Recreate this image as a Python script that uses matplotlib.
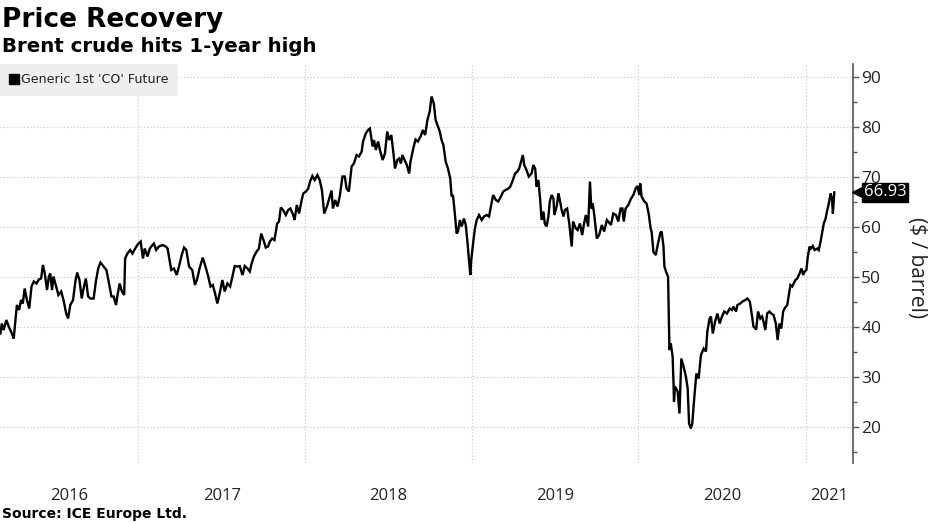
import matplotlib
matplotlib.use("Agg")
import matplotlib.pyplot as plt
import matplotlib.dates as mdates
import matplotlib.transforms as mtransforms
from matplotlib.lines import Line2D
from matplotlib.ticker import FixedLocator, NullFormatter, FixedFormatter
import pandas as pd

# ---- data: Brent (Generic 1st 'CO' Future), day-of-year and price per year ----
years = [2016, 2017, 2018, 2019, 2020, 2021]

d2016 = [64, 67, 71, 77, 82, 89, 93, 97, 100, 105, 109, 113, 117, 122, 127, 132, 137, 143, 148, 153,
         157, 161, 166, 170, 173, 177, 180, 186, 191, 197, 202, 208, 212, 217, 223, 228, 232, 237, 242, 246,
         251, 256, 261, 268, 273, 278, 283, 290, 296, 301, 307, 312, 317, 321, 325, 330, 335, 337, 342, 348,
         353, 359]
p2016 = [38.7, 40.7, 39.4, 41.4, 40.1, 38.7, 37.7, 41.4, 44.4, 43.4, 45.4, 44.7, 47.7, 45.4, 43.7, 48.1, 49.1, 48.7, 49.5, 49.7,
         52.4, 50.7, 47.4, 50.1, 50.7, 47.4, 50.1, 48.1, 46.4, 47.1, 45.4, 42.7, 41.7, 44.4, 45.4, 49.1, 50.9, 49.4, 45.7, 47.7,
         49.7, 46.1, 45.7, 45.7, 49.1, 51.7, 52.9, 52.1, 51.4, 49.1, 46.1, 46.1, 44.4, 46.7, 48.7, 47.1, 46.4, 53.7, 54.7, 55.4,
         54.7, 55.7]

d2017 = [0, 5, 10, 14, 20, 25, 31, 34, 39, 45, 53, 60, 64, 67, 72, 78, 84, 89, 95, 100,
         105, 111, 118, 124, 129, 134, 141, 147, 153, 158, 163, 168, 173, 178, 184, 189, 195, 201, 206, 211,
         217, 222, 228, 233, 239, 244, 248, 253, 259, 264, 269, 274, 279, 284, 288, 293, 298, 304, 308, 312,
         317, 323, 328, 333, 339, 342, 347, 352, 357, 361]
p2017 = [56.7, 57.1, 53.7, 55.7, 54.1, 55.7, 56.4, 56.7, 55.4, 56.1, 56.4, 56.1, 55.7, 54.1, 51.4, 51.7, 50.4, 52.1, 54.4, 55.9,
         55.4, 52.1, 51.4, 48.4, 49.7, 51.7, 53.9, 52.1, 50.1, 48.1, 48.4, 46.7, 44.7, 46.7, 49.4, 47.1, 48.7, 48.1, 50.1, 52.2,
         52.1, 52.2, 50.4, 52.2, 51.7, 51.1, 52.7, 54.1, 55.1, 55.7, 58.7, 57.4, 55.9, 56.1, 57.1, 57.7, 57.4, 60.7, 61.1, 63.9,
         63.4, 62.4, 63.4, 63.7, 62.4, 61.4, 64.4, 62.7, 65.1, 66.7]

d2018 = [2, 7, 11, 16, 21, 27, 32, 37, 42, 48, 53, 58, 61, 66, 71, 76, 82, 87, 91, 96,
         102, 107, 113, 118, 124, 127, 133, 138, 142, 148, 151, 155, 160, 164, 170, 175, 180, 184, 189, 194,
         197, 202, 206, 210, 213, 218, 223, 228, 231, 237, 242, 247, 253, 258, 263, 268, 273, 277, 282, 286,
         290, 295, 299, 303, 308, 313, 318, 321, 324, 328, 332, 335, 339, 343, 348, 352, 356, 359, 362, 364]
p2018 = [67.1, 67.7, 69.1, 70.2, 69.4, 70.4, 69.4, 67.4, 62.7, 64.1, 65.7, 67.3, 63.7, 65.4, 64.1, 66.1, 70.1, 70.1, 67.7, 67.1,
         72.1, 72.7, 74.4, 74.1, 75.1, 77.1, 78.7, 79.4, 79.7, 76.1, 77.4, 75.4, 77.1, 75.4, 73.4, 74.7, 79.1, 77.4, 78.4, 74.4,
         71.7, 73.4, 73.7, 72.7, 74.4, 73.4, 72.4, 70.7, 73.1, 75.7, 77.5, 77.1, 78.1, 79.4, 78.4, 81.4, 83.1, 86.1, 84.7, 81.4,
         80.4, 79.1, 77.4, 76.4, 73.1, 71.7, 69.7, 66.1, 66.4, 62.7, 58.7, 59.1, 61.4, 60.1, 61.7, 60.4, 56.7, 53.4, 50.4, 53.4]

d2019 = [3, 7, 11, 16, 22, 27, 33, 38, 42, 47, 53, 58, 64, 69, 74, 79, 84, 89, 95, 100,
         104, 109, 112, 115, 120, 125, 131, 135, 139, 142, 146, 150, 153, 157, 160, 164, 168, 171, 175, 179,
         181, 186, 190, 193, 197, 201, 204, 209, 214, 219, 222, 228, 232, 237, 242, 246, 250, 255, 259, 262,
         265, 268, 274, 279, 285, 290, 296, 299, 305, 310, 316, 321, 326, 330, 333, 337, 343, 349, 354, 359,
         363]
p2019 = [56.7, 59.7, 61.4, 62.4, 61.4, 62.1, 62.4, 62.1, 64.1, 66.4, 65.4, 65.1, 66.1, 67.1, 67.4, 67.6, 68.0, 69.1, 70.7, 71.1,
         71.7, 73.4, 74.4, 72.4, 71.4, 70.1, 70.7, 72.4, 71.7, 68.1, 69.4, 65.4, 61.4, 63.1, 60.7, 60.1, 62.1, 65.1, 66.4, 65.7,
         62.4, 64.1, 66.7, 65.4, 63.4, 62.1, 63.4, 63.7, 60.4, 56.1, 61.1, 59.7, 59.4, 60.7, 58.4, 60.7, 62.4, 60.1, 69.1, 63.7,
         64.7, 62.7, 57.7, 58.4, 60.4, 59.1, 61.4, 61.1, 60.4, 62.7, 62.4, 61.1, 63.7, 63.7, 61.1, 63.7, 64.4, 65.7, 66.4, 67.7,
         68.2]

d2020 = [2, 4, 7, 13, 18, 23, 27, 29, 33, 38, 43, 48, 51, 55, 57, 62, 65, 68, 71, 75,
         77, 78, 80, 86, 90, 94, 99, 104, 108, 111, 115, 118, 122, 127, 132, 137, 143, 148, 151, 156,
         159, 163, 168, 173, 178, 183, 188, 194, 200, 205, 208, 214, 217, 223, 228, 234, 239, 244, 247, 252,
         258, 262, 267, 271, 274, 278, 282, 287, 291, 296, 301, 305, 309, 313, 317, 320, 326, 329, 333, 337,
         340, 344, 348, 353, 357, 361, 364]
p2020 = [66.4, 68.7, 66.1, 65.1, 64.7, 62.4, 59.6, 59.1, 55.0, 54.4, 56.7, 58.8, 59.1, 56.1, 52.1, 50.7, 50.1, 35.4, 36.7, 34.1,
         28.7, 25.1, 28.1, 27.1, 22.7, 33.7, 32.1, 30.1, 27.7, 20.7, 19.7, 20.7, 25.4, 30.7, 29.7, 34.4, 35.7, 35.1, 39.1, 41.7,
         42.1, 38.7, 41.1, 42.7, 40.7, 42.1, 43.1, 42.7, 43.7, 43.4, 44.1, 43.1, 44.4, 44.7, 45.1, 45.4, 45.7, 45.1, 43.4, 40.1,
         39.5, 43.1, 41.7, 42.1, 41.1, 39.4, 42.7, 43.1, 42.7, 42.4, 40.7, 37.4, 40.7, 39.7, 43.1, 43.7, 44.4, 46.1, 48.4, 48.1,
         48.7, 49.4, 49.7, 50.7, 51.7, 50.4, 51.1]

d2021 = [2, 5, 9, 12, 16, 20, 26, 29, 33, 37, 40, 44, 47, 51, 55, 58, 60, 63]
p2021 = [51.4, 54.1, 56.1, 55.7, 56.2, 55.4, 55.7, 55.4, 57.1, 59.1, 60.7, 61.7, 63.1, 64.7, 66.7, 65.7, 62.7, 66.93]

series_label = "Generic 1st 'CO' Future"
title = "Price Recovery"
subtitle = "Brent crude hits 1-year high"
source = "Source: ICE Europe Ltd."
y_label = "($ / barrel)"
y_ticks = [20, 30, 40, 50, 60, 70, 80, 90]

days = [d2016, d2017, d2018, d2019, d2020, d2021]
prices_by_year = [p2016, p2017, p2018, p2019, p2020, p2021]

dates = []
prices = []
for yr, d, p in zip(years, days, prices_by_year):
    base = pd.Timestamp(f"{yr}-01-01")
    dates.extend(list(base + pd.to_timedelta(d, unit="D")))
    prices.extend(p)

# ---- figure ----
fig = plt.figure(figsize=(9.3, 5.23), dpi=100)
ax = fig.add_axes([0.0, 0.1147, 0.9172, 0.7629])

ax.plot(dates, prices, color="black", lw=1.7, solid_joinstyle="miter", zorder=3)

x0 = pd.Timestamp("2016-03-04")
x1 = pd.Timestamp("2021-04-15")
ax.set_xlim(x0, x1)
ax.set_ylim(12.8, 92.6)

# spines
for s in ["left", "top", "bottom"]:
    ax.spines[s].set_visible(False)
ax.spines["right"].set_color("#555555")
ax.spines["right"].set_linewidth(1.2)

# y axis on right
ax.yaxis.tick_right()
ax.yaxis.set_major_locator(FixedLocator(y_ticks))
ax.yaxis.set_minor_locator(FixedLocator([t - 5 for t in y_ticks]))
ax.tick_params(axis="y", which="major", direction="out", length=4, width=1, color="#555555",
               labelsize=12.5, labelcolor="#222222", pad=2)
ax.tick_params(axis="y", which="minor", direction="out", length=3, width=1, color="#555555")
for lbl in ax.get_yticklabels():
    lbl.set_fontfamily("Open Sans")

# x axis: gridlines at year boundaries, labels centred on visible part of each year
bounds = [pd.Timestamp(f"{y}-01-01") for y in years[1:]]
ax.xaxis.set_major_locator(FixedLocator(mdates.date2num(bounds)))
ax.xaxis.set_major_formatter(NullFormatter())
mids = []
for y in years:
    lo = max(pd.Timestamp(f"{y}-01-01"), x0)
    hi = min(pd.Timestamp(f"{y + 1}-01-01"), x1)
    mids.append(lo + (hi - lo) / 2)
ax.xaxis.set_minor_locator(FixedLocator(mdates.date2num(mids)))
ax.xaxis.set_minor_formatter(FixedFormatter([str(y) for y in years]))
ax.tick_params(axis="x", which="both", length=0, labelsize=12, labelcolor="#222222", pad=18)
for lbl in ax.get_xticklabels(minor=True):
    lbl.set_fontfamily("Open Sans")

ax.grid(True, which="major", axis="both", color="#c4c4c4", lw=0.8, linestyle=(0, (1, 2)))
ax.set_axisbelow(True)

# legend box
handle = Line2D([], [], marker="s", color="black", ls="none", markersize=6.8)
leg = ax.legend([handle], [series_label], loc="upper left", bbox_to_anchor=(0.0, 1.0),
                frameon=True, fancybox=False, facecolor="#eeeeee", edgecolor="none",
                framealpha=1, borderaxespad=0, handlelength=0.7, handletextpad=0.25,
                borderpad=0.75, prop={"family": "DejaVu Sans", "size": 9.1})
for t in leg.get_texts():
    t.set_color("#222222")

# last value tag
last = prices[-1]
trans = mtransforms.blended_transform_factory(ax.transAxes, ax.transData)
ax.plot([1.0055], [last], marker="<", markersize=8, color="black", transform=trans,
        clip_on=False, zorder=6)
ax.text(1.0125, last, f"{last:.2f}", transform=trans, ha="left", va="center", color="white",
        fontsize=12, family="Open Sans", zorder=7,
        bbox=dict(boxstyle="square,pad=0.1", fc="black", ec="black"), clip_on=False)

# y label
fig.text(916 / 930, 1 - 268 / 523, y_label, rotation=270, ha="center", va="center",
         fontsize=15, family="Open Sans", color="#222222")

# titles and source
fig.text(0.002, 1 - 7 / 523, title, ha="left", va="top", fontsize=19, fontweight="bold",
         family="DejaVu Sans", color="black")
fig.text(0.002, 1 - 37 / 523, subtitle, ha="left", va="top", fontsize=14.2, fontweight="bold",
         family="DejaVu Sans", color="black")
fig.text(0.002, 1 - 521 / 523, source, ha="left", va="bottom", fontsize=10, fontweight="bold",
         family="DejaVu Sans", color="black")

fig.savefig("out.png", dpi=100)
